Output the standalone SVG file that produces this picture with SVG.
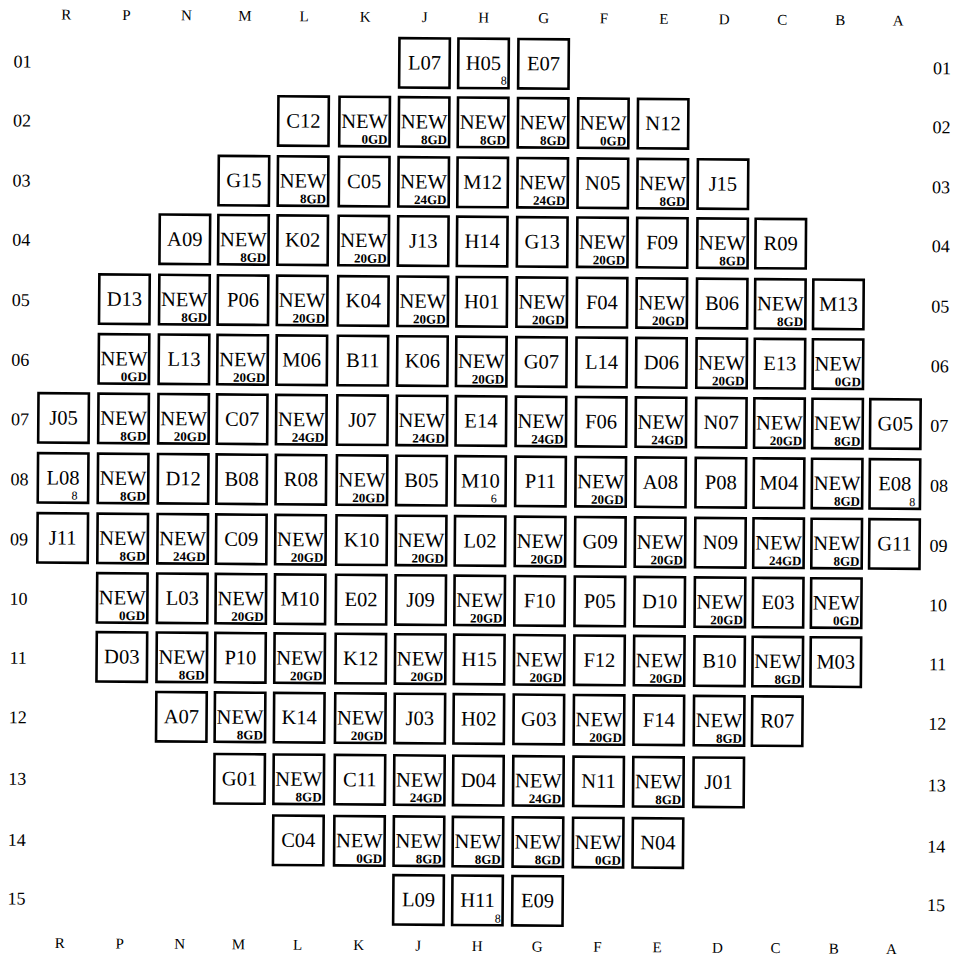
<svg xmlns="http://www.w3.org/2000/svg" width="957" height="959" viewBox="0 0 957 959" font-family="'Liberation Serif', 'Times New Roman', serif">
<style>
svg text{font-family:'Liberation Serif','Times New Roman',serif;fill:#000}
.b{fill:#fff;stroke:#000;stroke-width:2.6}
.t{font-size:20.5px;text-anchor:middle;font-family:'Liberation Serif',serif}
.s{font-size:13px;font-weight:bold;text-anchor:end;font-family:'Liberation Serif',serif}
.n{font-size:12px;text-anchor:end;font-family:'Liberation Serif',serif}
.h{font-size:15px;text-anchor:middle;font-family:'Liberation Serif',serif}
.r{font-size:18px;text-anchor:middle;font-family:'Liberation Serif',serif}
</style>
<defs>
<rect id="box" class="b" x="1.3" y="1.3" width="50.4" height="49.4"/>
</defs>
<rect x="0" y="0" width="957" height="959" fill="#fff"/>
<g transform="rotate(0.41 478 480)" font-family="'Liberation Serif', serif">
<g id="col-labels">
<text class="h" x="63.1" y="22.5">R</text><text class="h" x="123.1" y="22.5">P</text><text class="h" x="183.1" y="22.5">N</text><text class="h" x="241.7" y="22.5">M</text><text class="h" x="300.9" y="22.5">L</text><text class="h" x="362" y="22.5">K</text><text class="h" x="421.5" y="22.5">J</text><text class="h" x="480.5" y="22.5">H</text><text class="h" x="540.5" y="22.5">G</text><text class="h" x="600.7" y="22.5">F</text><text class="h" x="660.5" y="22.5">E</text><text class="h" x="720.8" y="22.5">D</text><text class="h" x="779" y="22.5">C</text><text class="h" x="837.1" y="22.5">B</text><text class="h" x="894.9" y="22.5">A</text>
<text class="h" x="63.1" y="951">R</text><text class="h" x="123.1" y="951">P</text><text class="h" x="183.1" y="951">N</text><text class="h" x="241.7" y="951">M</text><text class="h" x="300.9" y="951">L</text><text class="h" x="362" y="951">K</text><text class="h" x="421.5" y="951">J</text><text class="h" x="480.5" y="951">H</text><text class="h" x="540.5" y="951">G</text><text class="h" x="600.7" y="951">F</text><text class="h" x="660.5" y="951">E</text><text class="h" x="720.8" y="951">D</text><text class="h" x="779" y="951">C</text><text class="h" x="837.1" y="951">B</text><text class="h" x="894.9" y="951">A</text>
</g>
<g id="row-labels">
<text class="r" x="19.5" y="70.9">01</text><text class="r" x="19.5" y="129.9">02</text><text class="r" x="19.5" y="189.9">03</text><text class="r" x="19.5" y="249">04</text><text class="r" x="19.5" y="309.3">05</text><text class="r" x="19.5" y="369">06</text><text class="r" x="19.5" y="428.5">07</text><text class="r" x="19.5" y="488.5">08</text><text class="r" x="19.5" y="548.5">09</text><text class="r" x="19.5" y="608">10</text><text class="r" x="19.5" y="667">11</text><text class="r" x="19.5" y="726.5">12</text><text class="r" x="19.5" y="788.1">13</text><text class="r" x="19.5" y="849.2">14</text><text class="r" x="19.5" y="907.9">15</text>
<text class="r" x="939" y="70.9">01</text><text class="r" x="939" y="129.9">02</text><text class="r" x="939" y="189.9">03</text><text class="r" x="939" y="249">04</text><text class="r" x="939" y="309.3">05</text><text class="r" x="939" y="369">06</text><text class="r" x="939" y="428.5">07</text><text class="r" x="939" y="488.5">08</text><text class="r" x="939" y="548.5">09</text><text class="r" x="939" y="608">10</text><text class="r" x="939" y="667">11</text><text class="r" x="939" y="726.5">12</text><text class="r" x="939" y="788.1">13</text><text class="r" x="939" y="849.2">14</text><text class="r" x="939" y="907.9">15</text>
</g>
<g id="nodes">
<g id="n01J" transform="translate(395 37.4)"><use href="#box"/><text class="t" x="26.5" y="32.5">L07</text></g>
<g id="n01H" transform="translate(454 37.4)"><use href="#box"/><text class="t" x="26.5" y="32.5">H05</text><text class="n" x="50" y="47">8</text></g>
<g id="n01G" transform="translate(514 37.4)"><use href="#box"/><text class="t" x="26.5" y="32.5">E07</text></g>
<g id="n02L" transform="translate(274.4 96.4)"><use href="#box"/><text class="t" x="26.5" y="32.5">C12</text></g>
<g id="n02K" transform="translate(335.5 96.4)"><use href="#box"/><text class="t" x="26.5" y="32.5">NEW</text><text class="s" x="49.5" y="48">0GD</text></g>
<g id="n02J" transform="translate(395 96.4)"><use href="#box"/><text class="t" x="26.5" y="32.5">NEW</text><text class="s" x="49.5" y="48">8GD</text></g>
<g id="n02H" transform="translate(454 96.4)"><use href="#box"/><text class="t" x="26.5" y="32.5">NEW</text><text class="s" x="49.5" y="48">8GD</text></g>
<g id="n02G" transform="translate(514 96.4)"><use href="#box"/><text class="t" x="26.5" y="32.5">NEW</text><text class="s" x="49.5" y="48">8GD</text></g>
<g id="n02F" transform="translate(574.2 96.4)"><use href="#box"/><text class="t" x="26.5" y="32.5">NEW</text><text class="s" x="49.5" y="48">0GD</text></g>
<g id="n02E" transform="translate(634 96.4)"><use href="#box"/><text class="t" x="26.5" y="32.5">N12</text></g>
<g id="n03M" transform="translate(215.2 156.4)"><use href="#box"/><text class="t" x="26.5" y="32.5">G15</text></g>
<g id="n03L" transform="translate(274.4 156.4)"><use href="#box"/><text class="t" x="26.5" y="32.5">NEW</text><text class="s" x="49.5" y="48">8GD</text></g>
<g id="n03K" transform="translate(335.5 156.4)"><use href="#box"/><text class="t" x="26.5" y="32.5">C05</text></g>
<g id="n03J" transform="translate(395 156.4)"><use href="#box"/><text class="t" x="26.5" y="32.5">NEW</text><text class="s" x="49.5" y="48">24GD</text></g>
<g id="n03H" transform="translate(454 156.4)"><use href="#box"/><text class="t" x="26.5" y="32.5">M12</text></g>
<g id="n03G" transform="translate(514 156.4)"><use href="#box"/><text class="t" x="26.5" y="32.5">NEW</text><text class="s" x="49.5" y="48">24GD</text></g>
<g id="n03F" transform="translate(574.2 156.4)"><use href="#box"/><text class="t" x="26.5" y="32.5">N05</text></g>
<g id="n03E" transform="translate(634 156.4)"><use href="#box"/><text class="t" x="26.5" y="32.5">NEW</text><text class="s" x="49.5" y="48">8GD</text></g>
<g id="n03D" transform="translate(694.3 156.4)"><use href="#box"/><text class="t" x="26.5" y="32.5">J15</text></g>
<g id="n04N" transform="translate(156.6 215.5)"><use href="#box"/><text class="t" x="26.5" y="32.5">A09</text></g>
<g id="n04M" transform="translate(215.2 215.5)"><use href="#box"/><text class="t" x="26.5" y="32.5">NEW</text><text class="s" x="49.5" y="48">8GD</text></g>
<g id="n04L" transform="translate(274.4 215.5)"><use href="#box"/><text class="t" x="26.5" y="32.5">K02</text></g>
<g id="n04K" transform="translate(335.5 215.5)"><use href="#box"/><text class="t" x="26.5" y="32.5">NEW</text><text class="s" x="49.5" y="48">20GD</text></g>
<g id="n04J" transform="translate(395 215.5)"><use href="#box"/><text class="t" x="26.5" y="32.5">J13</text></g>
<g id="n04H" transform="translate(454 215.5)"><use href="#box"/><text class="t" x="26.5" y="32.5">H14</text></g>
<g id="n04G" transform="translate(514 215.5)"><use href="#box"/><text class="t" x="26.5" y="32.5">G13</text></g>
<g id="n04F" transform="translate(574.2 215.5)"><use href="#box"/><text class="t" x="26.5" y="32.5">NEW</text><text class="s" x="49.5" y="48">20GD</text></g>
<g id="n04E" transform="translate(634 215.5)"><use href="#box"/><text class="t" x="26.5" y="32.5">F09</text></g>
<g id="n04D" transform="translate(694.3 215.5)"><use href="#box"/><text class="t" x="26.5" y="32.5">NEW</text><text class="s" x="49.5" y="48">8GD</text></g>
<g id="n04C" transform="translate(752.5 215.5)"><use href="#box"/><text class="t" x="26.5" y="32.5">R09</text></g>
<g id="n05P" transform="translate(96.6 275.8)"><use href="#box"/><text class="t" x="26.5" y="32.5">D13</text></g>
<g id="n05N" transform="translate(156.6 275.8)"><use href="#box"/><text class="t" x="26.5" y="32.5">NEW</text><text class="s" x="49.5" y="48">8GD</text></g>
<g id="n05M" transform="translate(215.2 275.8)"><use href="#box"/><text class="t" x="26.5" y="32.5">P06</text></g>
<g id="n05L" transform="translate(274.4 275.8)"><use href="#box"/><text class="t" x="26.5" y="32.5">NEW</text><text class="s" x="49.5" y="48">20GD</text></g>
<g id="n05K" transform="translate(335.5 275.8)"><use href="#box"/><text class="t" x="26.5" y="32.5">K04</text></g>
<g id="n05J" transform="translate(395 275.8)"><use href="#box"/><text class="t" x="26.5" y="32.5">NEW</text><text class="s" x="49.5" y="48">20GD</text></g>
<g id="n05H" transform="translate(454 275.8)"><use href="#box"/><text class="t" x="26.5" y="32.5">H01</text></g>
<g id="n05G" transform="translate(514 275.8)"><use href="#box"/><text class="t" x="26.5" y="32.5">NEW</text><text class="s" x="49.5" y="48">20GD</text></g>
<g id="n05F" transform="translate(574.2 275.8)"><use href="#box"/><text class="t" x="26.5" y="32.5">F04</text></g>
<g id="n05E" transform="translate(634 275.8)"><use href="#box"/><text class="t" x="26.5" y="32.5">NEW</text><text class="s" x="49.5" y="48">20GD</text></g>
<g id="n05D" transform="translate(694.3 275.8)"><use href="#box"/><text class="t" x="26.5" y="32.5">B06</text></g>
<g id="n05C" transform="translate(752.5 275.8)"><use href="#box"/><text class="t" x="26.5" y="32.5">NEW</text><text class="s" x="49.5" y="48">8GD</text></g>
<g id="n05B" transform="translate(810.6 275.8)"><use href="#box"/><text class="t" x="26.5" y="32.5">M13</text></g>
<g id="n06P" transform="translate(96.6 335.5)"><use href="#box"/><text class="t" x="26.5" y="32.5">NEW</text><text class="s" x="49.5" y="48">0GD</text></g>
<g id="n06N" transform="translate(156.6 335.5)"><use href="#box"/><text class="t" x="26.5" y="32.5">L13</text></g>
<g id="n06M" transform="translate(215.2 335.5)"><use href="#box"/><text class="t" x="26.5" y="32.5">NEW</text><text class="s" x="49.5" y="48">20GD</text></g>
<g id="n06L" transform="translate(274.4 335.5)"><use href="#box"/><text class="t" x="26.5" y="32.5">M06</text></g>
<g id="n06K" transform="translate(335.5 335.5)"><use href="#box"/><text class="t" x="26.5" y="32.5">B11</text></g>
<g id="n06J" transform="translate(395 335.5)"><use href="#box"/><text class="t" x="26.5" y="32.5">K06</text></g>
<g id="n06H" transform="translate(454 335.5)"><use href="#box"/><text class="t" x="26.5" y="32.5">NEW</text><text class="s" x="49.5" y="48">20GD</text></g>
<g id="n06G" transform="translate(514 335.5)"><use href="#box"/><text class="t" x="26.5" y="32.5">G07</text></g>
<g id="n06F" transform="translate(574.2 335.5)"><use href="#box"/><text class="t" x="26.5" y="32.5">L14</text></g>
<g id="n06E" transform="translate(634 335.5)"><use href="#box"/><text class="t" x="26.5" y="32.5">D06</text></g>
<g id="n06D" transform="translate(694.3 335.5)"><use href="#box"/><text class="t" x="26.5" y="32.5">NEW</text><text class="s" x="49.5" y="48">20GD</text></g>
<g id="n06C" transform="translate(752.5 335.5)"><use href="#box"/><text class="t" x="26.5" y="32.5">E13</text></g>
<g id="n06B" transform="translate(810.6 335.5)"><use href="#box"/><text class="t" x="26.5" y="32.5">NEW</text><text class="s" x="49.5" y="48">0GD</text></g>
<g id="n07R" transform="translate(36.6 395)"><use href="#box"/><text class="t" x="26.5" y="32.5">J05</text></g>
<g id="n07P" transform="translate(96.6 395)"><use href="#box"/><text class="t" x="26.5" y="32.5">NEW</text><text class="s" x="49.5" y="48">8GD</text></g>
<g id="n07N" transform="translate(156.6 395)"><use href="#box"/><text class="t" x="26.5" y="32.5">NEW</text><text class="s" x="49.5" y="48">20GD</text></g>
<g id="n07M" transform="translate(215.2 395)"><use href="#box"/><text class="t" x="26.5" y="32.5">C07</text></g>
<g id="n07L" transform="translate(274.4 395)"><use href="#box"/><text class="t" x="26.5" y="32.5">NEW</text><text class="s" x="49.5" y="48">24GD</text></g>
<g id="n07K" transform="translate(335.5 395)"><use href="#box"/><text class="t" x="26.5" y="32.5">J07</text></g>
<g id="n07J" transform="translate(395 395)"><use href="#box"/><text class="t" x="26.5" y="32.5">NEW</text><text class="s" x="49.5" y="48">24GD</text></g>
<g id="n07H" transform="translate(454 395)"><use href="#box"/><text class="t" x="26.5" y="32.5">E14</text></g>
<g id="n07G" transform="translate(514 395)"><use href="#box"/><text class="t" x="26.5" y="32.5">NEW</text><text class="s" x="49.5" y="48">24GD</text></g>
<g id="n07F" transform="translate(574.2 395)"><use href="#box"/><text class="t" x="26.5" y="32.5">F06</text></g>
<g id="n07E" transform="translate(634 395)"><use href="#box"/><text class="t" x="26.5" y="32.5">NEW</text><text class="s" x="49.5" y="48">24GD</text></g>
<g id="n07D" transform="translate(694.3 395)"><use href="#box"/><text class="t" x="26.5" y="32.5">N07</text></g>
<g id="n07C" transform="translate(752.5 395)"><use href="#box"/><text class="t" x="26.5" y="32.5">NEW</text><text class="s" x="49.5" y="48">20GD</text></g>
<g id="n07B" transform="translate(810.6 395)"><use href="#box"/><text class="t" x="26.5" y="32.5">NEW</text><text class="s" x="49.5" y="48">8GD</text></g>
<g id="n07A" transform="translate(868.4 395)"><use href="#box"/><text class="t" x="26.5" y="32.5">G05</text></g>
<g id="n08R" transform="translate(36.6 455)"><use href="#box"/><text class="t" x="26.5" y="32.5">L08</text><text class="n" x="41" y="47.5">8</text></g>
<g id="n08P" transform="translate(96.6 455)"><use href="#box"/><text class="t" x="26.5" y="32.5">NEW</text><text class="s" x="49.5" y="48">8GD</text></g>
<g id="n08N" transform="translate(156.6 455)"><use href="#box"/><text class="t" x="26.5" y="32.5">D12</text></g>
<g id="n08M" transform="translate(215.2 455)"><use href="#box"/><text class="t" x="26.5" y="32.5">B08</text></g>
<g id="n08L" transform="translate(274.4 455)"><use href="#box"/><text class="t" x="26.5" y="32.5">R08</text></g>
<g id="n08K" transform="translate(335.5 455)"><use href="#box"/><text class="t" x="26.5" y="32.5">NEW</text><text class="s" x="49.5" y="48">20GD</text></g>
<g id="n08J" transform="translate(395 455)"><use href="#box"/><text class="t" x="26.5" y="32.5">B05</text></g>
<g id="n08H" transform="translate(454 455)"><use href="#box"/><text class="t" x="26.5" y="32.5">M10</text><text class="n" x="43" y="47.5">6</text></g>
<g id="n08G" transform="translate(514 455)"><use href="#box"/><text class="t" x="26.5" y="32.5">P11</text></g>
<g id="n08F" transform="translate(574.2 455)"><use href="#box"/><text class="t" x="26.5" y="32.5">NEW</text><text class="s" x="49.5" y="48">20GD</text></g>
<g id="n08E" transform="translate(634 455)"><use href="#box"/><text class="t" x="26.5" y="32.5">A08</text></g>
<g id="n08D" transform="translate(694.3 455)"><use href="#box"/><text class="t" x="26.5" y="32.5">P08</text></g>
<g id="n08C" transform="translate(752.5 455)"><use href="#box"/><text class="t" x="26.5" y="32.5">M04</text></g>
<g id="n08B" transform="translate(810.6 455)"><use href="#box"/><text class="t" x="26.5" y="32.5">NEW</text><text class="s" x="49.5" y="48">8GD</text></g>
<g id="n08A" transform="translate(868.4 455)"><use href="#box"/><text class="t" x="26.5" y="32.5">E08</text><text class="n" x="47" y="48">8</text></g>
<g id="n09R" transform="translate(36.6 515)"><use href="#box"/><text class="t" x="26.5" y="32.5">J11</text></g>
<g id="n09P" transform="translate(96.6 515)"><use href="#box"/><text class="t" x="26.5" y="32.5">NEW</text><text class="s" x="49.5" y="48">8GD</text></g>
<g id="n09N" transform="translate(156.6 515)"><use href="#box"/><text class="t" x="26.5" y="32.5">NEW</text><text class="s" x="49.5" y="48">24GD</text></g>
<g id="n09M" transform="translate(215.2 515)"><use href="#box"/><text class="t" x="26.5" y="32.5">C09</text></g>
<g id="n09L" transform="translate(274.4 515)"><use href="#box"/><text class="t" x="26.5" y="32.5">NEW</text><text class="s" x="49.5" y="48">20GD</text></g>
<g id="n09K" transform="translate(335.5 515)"><use href="#box"/><text class="t" x="26.5" y="32.5">K10</text></g>
<g id="n09J" transform="translate(395 515)"><use href="#box"/><text class="t" x="26.5" y="32.5">NEW</text><text class="s" x="49.5" y="48">20GD</text></g>
<g id="n09H" transform="translate(454 515)"><use href="#box"/><text class="t" x="26.5" y="32.5">L02</text></g>
<g id="n09G" transform="translate(514 515)"><use href="#box"/><text class="t" x="26.5" y="32.5">NEW</text><text class="s" x="49.5" y="48">20GD</text></g>
<g id="n09F" transform="translate(574.2 515)"><use href="#box"/><text class="t" x="26.5" y="32.5">G09</text></g>
<g id="n09E" transform="translate(634 515)"><use href="#box"/><text class="t" x="26.5" y="32.5">NEW</text><text class="s" x="49.5" y="48">20GD</text></g>
<g id="n09D" transform="translate(694.3 515)"><use href="#box"/><text class="t" x="26.5" y="32.5">N09</text></g>
<g id="n09C" transform="translate(752.5 515)"><use href="#box"/><text class="t" x="26.5" y="32.5">NEW</text><text class="s" x="49.5" y="48">24GD</text></g>
<g id="n09B" transform="translate(810.6 515)"><use href="#box"/><text class="t" x="26.5" y="32.5">NEW</text><text class="s" x="49.5" y="48">8GD</text></g>
<g id="n09A" transform="translate(868.4 515)"><use href="#box"/><text class="t" x="26.5" y="32.5">G11</text></g>
<g id="n10P" transform="translate(96.6 574.5)"><use href="#box"/><text class="t" x="26.5" y="32.5">NEW</text><text class="s" x="49.5" y="48">0GD</text></g>
<g id="n10N" transform="translate(156.6 574.5)"><use href="#box"/><text class="t" x="26.5" y="32.5">L03</text></g>
<g id="n10M" transform="translate(215.2 574.5)"><use href="#box"/><text class="t" x="26.5" y="32.5">NEW</text><text class="s" x="49.5" y="48">20GD</text></g>
<g id="n10L" transform="translate(274.4 574.5)"><use href="#box"/><text class="t" x="26.5" y="32.5">M10</text></g>
<g id="n10K" transform="translate(335.5 574.5)"><use href="#box"/><text class="t" x="26.5" y="32.5">E02</text></g>
<g id="n10J" transform="translate(395 574.5)"><use href="#box"/><text class="t" x="26.5" y="32.5">J09</text></g>
<g id="n10H" transform="translate(454 574.5)"><use href="#box"/><text class="t" x="26.5" y="32.5">NEW</text><text class="s" x="49.5" y="48">20GD</text></g>
<g id="n10G" transform="translate(514 574.5)"><use href="#box"/><text class="t" x="26.5" y="32.5">F10</text></g>
<g id="n10F" transform="translate(574.2 574.5)"><use href="#box"/><text class="t" x="26.5" y="32.5">P05</text></g>
<g id="n10E" transform="translate(634 574.5)"><use href="#box"/><text class="t" x="26.5" y="32.5">D10</text></g>
<g id="n10D" transform="translate(694.3 574.5)"><use href="#box"/><text class="t" x="26.5" y="32.5">NEW</text><text class="s" x="49.5" y="48">20GD</text></g>
<g id="n10C" transform="translate(752.5 574.5)"><use href="#box"/><text class="t" x="26.5" y="32.5">E03</text></g>
<g id="n10B" transform="translate(810.6 574.5)"><use href="#box"/><text class="t" x="26.5" y="32.5">NEW</text><text class="s" x="49.5" y="48">0GD</text></g>
<g id="n11P" transform="translate(96.6 633.5)"><use href="#box"/><text class="t" x="26.5" y="32.5">D03</text></g>
<g id="n11N" transform="translate(156.6 633.5)"><use href="#box"/><text class="t" x="26.5" y="32.5">NEW</text><text class="s" x="49.5" y="48">8GD</text></g>
<g id="n11M" transform="translate(215.2 633.5)"><use href="#box"/><text class="t" x="26.5" y="32.5">P10</text></g>
<g id="n11L" transform="translate(274.4 633.5)"><use href="#box"/><text class="t" x="26.5" y="32.5">NEW</text><text class="s" x="49.5" y="48">20GD</text></g>
<g id="n11K" transform="translate(335.5 633.5)"><use href="#box"/><text class="t" x="26.5" y="32.5">K12</text></g>
<g id="n11J" transform="translate(395 633.5)"><use href="#box"/><text class="t" x="26.5" y="32.5">NEW</text><text class="s" x="49.5" y="48">20GD</text></g>
<g id="n11H" transform="translate(454 633.5)"><use href="#box"/><text class="t" x="26.5" y="32.5">H15</text></g>
<g id="n11G" transform="translate(514 633.5)"><use href="#box"/><text class="t" x="26.5" y="32.5">NEW</text><text class="s" x="49.5" y="48">20GD</text></g>
<g id="n11F" transform="translate(574.2 633.5)"><use href="#box"/><text class="t" x="26.5" y="32.5">F12</text></g>
<g id="n11E" transform="translate(634 633.5)"><use href="#box"/><text class="t" x="26.5" y="32.5">NEW</text><text class="s" x="49.5" y="48">20GD</text></g>
<g id="n11D" transform="translate(694.3 633.5)"><use href="#box"/><text class="t" x="26.5" y="32.5">B10</text></g>
<g id="n11C" transform="translate(752.5 633.5)"><use href="#box"/><text class="t" x="26.5" y="32.5">NEW</text><text class="s" x="49.5" y="48">8GD</text></g>
<g id="n11B" transform="translate(810.6 633.5)"><use href="#box"/><text class="t" x="26.5" y="32.5">M03</text></g>
<g id="n12N" transform="translate(156.6 693)"><use href="#box"/><text class="t" x="26.5" y="32.5">A07</text></g>
<g id="n12M" transform="translate(215.2 693)"><use href="#box"/><text class="t" x="26.5" y="32.5">NEW</text><text class="s" x="49.5" y="48">8GD</text></g>
<g id="n12L" transform="translate(274.4 693)"><use href="#box"/><text class="t" x="26.5" y="32.5">K14</text></g>
<g id="n12K" transform="translate(335.5 693)"><use href="#box"/><text class="t" x="26.5" y="32.5">NEW</text><text class="s" x="49.5" y="48">20GD</text></g>
<g id="n12J" transform="translate(395 693)"><use href="#box"/><text class="t" x="26.5" y="32.5">J03</text></g>
<g id="n12H" transform="translate(454 693)"><use href="#box"/><text class="t" x="26.5" y="32.5">H02</text></g>
<g id="n12G" transform="translate(514 693)"><use href="#box"/><text class="t" x="26.5" y="32.5">G03</text></g>
<g id="n12F" transform="translate(574.2 693)"><use href="#box"/><text class="t" x="26.5" y="32.5">NEW</text><text class="s" x="49.5" y="48">20GD</text></g>
<g id="n12E" transform="translate(634 693)"><use href="#box"/><text class="t" x="26.5" y="32.5">F14</text></g>
<g id="n12D" transform="translate(694.3 693)"><use href="#box"/><text class="t" x="26.5" y="32.5">NEW</text><text class="s" x="49.5" y="48">8GD</text></g>
<g id="n12C" transform="translate(752.5 693)"><use href="#box"/><text class="t" x="26.5" y="32.5">R07</text></g>
<g id="n13M" transform="translate(215.2 754.6)"><use href="#box"/><text class="t" x="26.5" y="32.5">G01</text></g>
<g id="n13L" transform="translate(274.4 754.6)"><use href="#box"/><text class="t" x="26.5" y="32.5">NEW</text><text class="s" x="49.5" y="48">8GD</text></g>
<g id="n13K" transform="translate(335.5 754.6)"><use href="#box"/><text class="t" x="26.5" y="32.5">C11</text></g>
<g id="n13J" transform="translate(395 754.6)"><use href="#box"/><text class="t" x="26.5" y="32.5">NEW</text><text class="s" x="49.5" y="48">24GD</text></g>
<g id="n13H" transform="translate(454 754.6)"><use href="#box"/><text class="t" x="26.5" y="32.5">D04</text></g>
<g id="n13G" transform="translate(514 754.6)"><use href="#box"/><text class="t" x="26.5" y="32.5">NEW</text><text class="s" x="49.5" y="48">24GD</text></g>
<g id="n13F" transform="translate(574.2 754.6)"><use href="#box"/><text class="t" x="26.5" y="32.5">N11</text></g>
<g id="n13E" transform="translate(634 754.6)"><use href="#box"/><text class="t" x="26.5" y="32.5">NEW</text><text class="s" x="49.5" y="48">8GD</text></g>
<g id="n13D" transform="translate(694.3 754.6)"><use href="#box"/><text class="t" x="26.5" y="32.5">J01</text></g>
<g id="n14L" transform="translate(274.4 815.7)"><use href="#box"/><text class="t" x="26.5" y="32.5">C04</text></g>
<g id="n14K" transform="translate(335.5 815.7)"><use href="#box"/><text class="t" x="26.5" y="32.5">NEW</text><text class="s" x="49.5" y="48">0GD</text></g>
<g id="n14J" transform="translate(395 815.7)"><use href="#box"/><text class="t" x="26.5" y="32.5">NEW</text><text class="s" x="49.5" y="48">8GD</text></g>
<g id="n14H" transform="translate(454 815.7)"><use href="#box"/><text class="t" x="26.5" y="32.5">NEW</text><text class="s" x="49.5" y="48">8GD</text></g>
<g id="n14G" transform="translate(514 815.7)"><use href="#box"/><text class="t" x="26.5" y="32.5">NEW</text><text class="s" x="49.5" y="48">8GD</text></g>
<g id="n14F" transform="translate(574.2 815.7)"><use href="#box"/><text class="t" x="26.5" y="32.5">NEW</text><text class="s" x="49.5" y="48">0GD</text></g>
<g id="n14E" transform="translate(634 815.7)"><use href="#box"/><text class="t" x="26.5" y="32.5">N04</text></g>
<g id="n15J" transform="translate(395 874.4)"><use href="#box"/><text class="t" x="26.5" y="32.5">L09</text></g>
<g id="n15H" transform="translate(454 874.4)"><use href="#box"/><text class="t" x="26.5" y="32.5">H11</text><text class="n" x="50" y="48">8</text></g>
<g id="n15G" transform="translate(514 874.4)"><use href="#box"/><text class="t" x="26.5" y="32.5">E09</text></g>
</g>
<g id="connectors"/>
</g>
</svg>
